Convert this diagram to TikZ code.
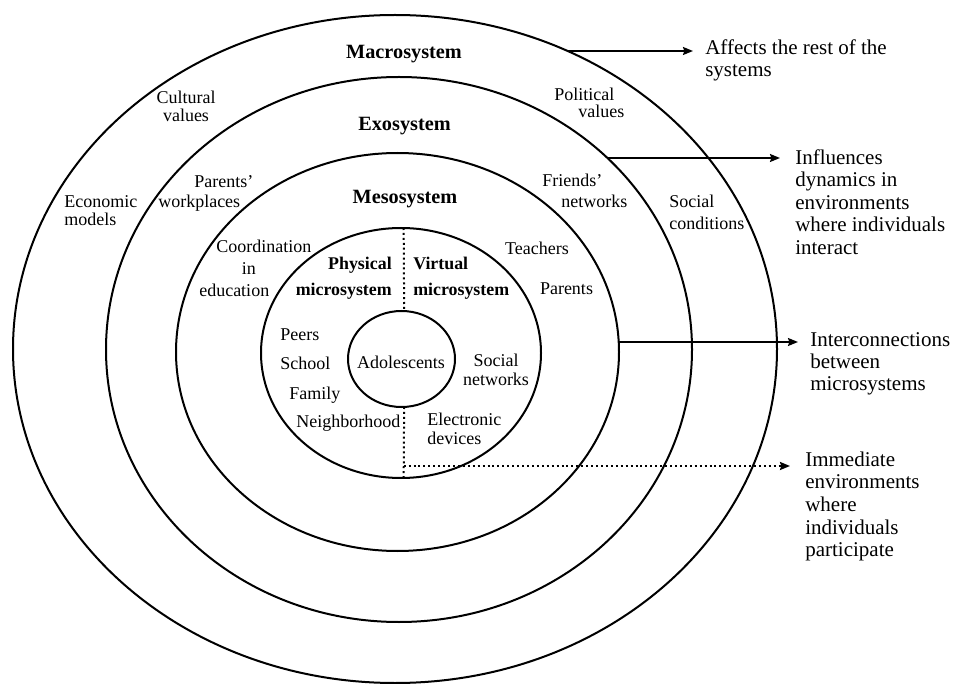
\documentclass[tikz,border=0pt]{standalone}
\usepackage{fontspec}
\setmainfont{Liberation Serif}
\usetikzlibrary{shapes.geometric,arrows.meta}

\begin{document}
\begin{tikzpicture}[x=0.75pt,y=-0.75pt,
  ring/.style={ellipse, draw, line width=1.5pt, inner sep=0pt, outer sep=0pt},
  lbl/.style={inner sep=0pt, font=\fontsize{13.5}{#1}\selectfont},
  lbl/.default=13.5,
  syshead/.style={inner sep=0pt, font=\bfseries\fontsize{15.2}{18}\selectfont},
  microhead/.style={inner sep=0pt, font=\bfseries\fontsize{13.4}{19}\selectfont},
  side/.style={inner sep=0pt, align=left, anchor=west, font=\fontsize{15.75}{#1}\selectfont},
  side/.default=16.9,
  link/.style={line width=1.2pt, -{Stealth[length=7.5pt,width=6pt,inset=1pt]}},
  dotlink/.style={link, line width=1.5pt, dash pattern=on 1.5pt off 2.2pt},
  divider/.style={line width=1.5pt, dash pattern=on 1.5pt off 2.2pt}
]
\useasboundingbox (0,0) rectangle (957,684);

% nested system rings
\node[ring, minimum width=573pt,   minimum height=501pt]   (macro) at (395,349)   {};
\node[ring, minimum width=439.5pt, minimum height=408.75pt] (exo)  at (399,349.5) {};
\node[ring, minimum width=332.25pt,minimum height=298.5pt] (meso)  at (397.5,352) {};
\node[ring, minimum width=210pt,   minimum height=187.5pt] (micro) at (401,353)   {};
\node[ring, minimum width=80.25pt, minimum height=72pt]    (core)  at (401.5,359) {};

% physical / virtual split of the microsystem
\draw[divider] ([xshift=2pt]micro.north) -- ([xshift=2pt]core.north);
\draw[divider] ([xshift=2pt]core.south) -- ([xshift=2pt]micro.south);

% system names
\node[syshead] (macroname) at (404,53.7)  {Macrosystem};
\node[syshead] (exoname)   at (404.5,125.7) {Exosystem};
\node[syshead] (mesoname)  at (405,198.7) {Mesosystem};

% macrosystem contents
\node[lbl, align=center] (cultural) at (186,106) {Cultural\\values};
\node[lbl, align=left, anchor=west] (economic) at (64,211) {Economic\\models};
\node[lbl=12.75, align=left, anchor=west] (political) at (554,102.5) {Political\\\hspace*{18pt}values};
\node[lbl=16.5, align=left, anchor=west] (social) at (669,212) {Social\\conditions};

% exosystem contents
\node[lbl=15, align=left, anchor=west] (workplaces) at (158,193.7) {\hspace*{27pt}Parents’\\workplaces};
\node[lbl=15.75, align=left, anchor=west] (friends) at (542,190.5) {Friends’\\\hspace*{14.25pt}networks};

% mesosystem contents
\node[lbl=16.5, align=left, anchor=west] (coordination) at (199,268)
  {\hspace*{12.75pt}Coordination\\\hspace*{32pt}in\\education};
\node[lbl] (teachers) at (537,248) {Teachers};
\node[lbl] (parents)  at (566.5,289) {Parents};

% microsystem contents
\node[microhead, align=right, anchor=east] (physical) at (392,278.2) {Physical\\microsystem};
\node[microhead, align=left, anchor=west]  (virtual)  at (413,278.2) {Virtual\\microsystem};
\node[lbl, anchor=west] (peers)  at (280,335)   {Peers};
\node[lbl, anchor=west] (school) at (280,363)   {School};
\node[lbl, anchor=west] (family) at (289,394.7) {Family};
\node[lbl, anchor=west] (neigh)  at (296,422.7) {Neighborhood};
\node[lbl=14.25, align=center] (socialnet) at (496,369.5) {Social\\networks};
\node[lbl=14.25, align=left, anchor=west] (devices) at (427,428.5) {Electronic\\devices};
\node[lbl] (adolescents) at (401,362) {Adolescents};

% explanations on the right
\node[side=17]   (affects)    at (705,60.5)  {Affects the rest of the\\systems};
\node[side=16.9] (influences) at (795,202)   {Influences\\dynamics in\\environments\\where individuals\\interact};
\node[side=16.5] (interconn)  at (810,364)   {Interconnections\\between\\microsystems};
\node[side=17]   (immediate)  at (805,506.5) {Immediate\\environments\\where\\individuals\\participate};

% arrow origins on the ring borders
\coordinate (a1) at (567.5,51);
\coordinate (a2) at (607.4,158);
\coordinate (a3) at (618.7,342);
\coordinate (a4) at ([xshift=2pt]micro.south |- 0,466);

\draw[link, shorten >=9pt]     (a1) -- (a1 -| affects.west);
\draw[link, shorten >=11.25pt] (a2) -- (a2 -| influences.west);
\draw[link, shorten >=9pt]     (a3) -- (a3 -| interconn.west);
\draw[dotlink, shorten >=11.25pt] (a4) -- (a4 -| immediate.west);
\end{tikzpicture}
\end{document}
